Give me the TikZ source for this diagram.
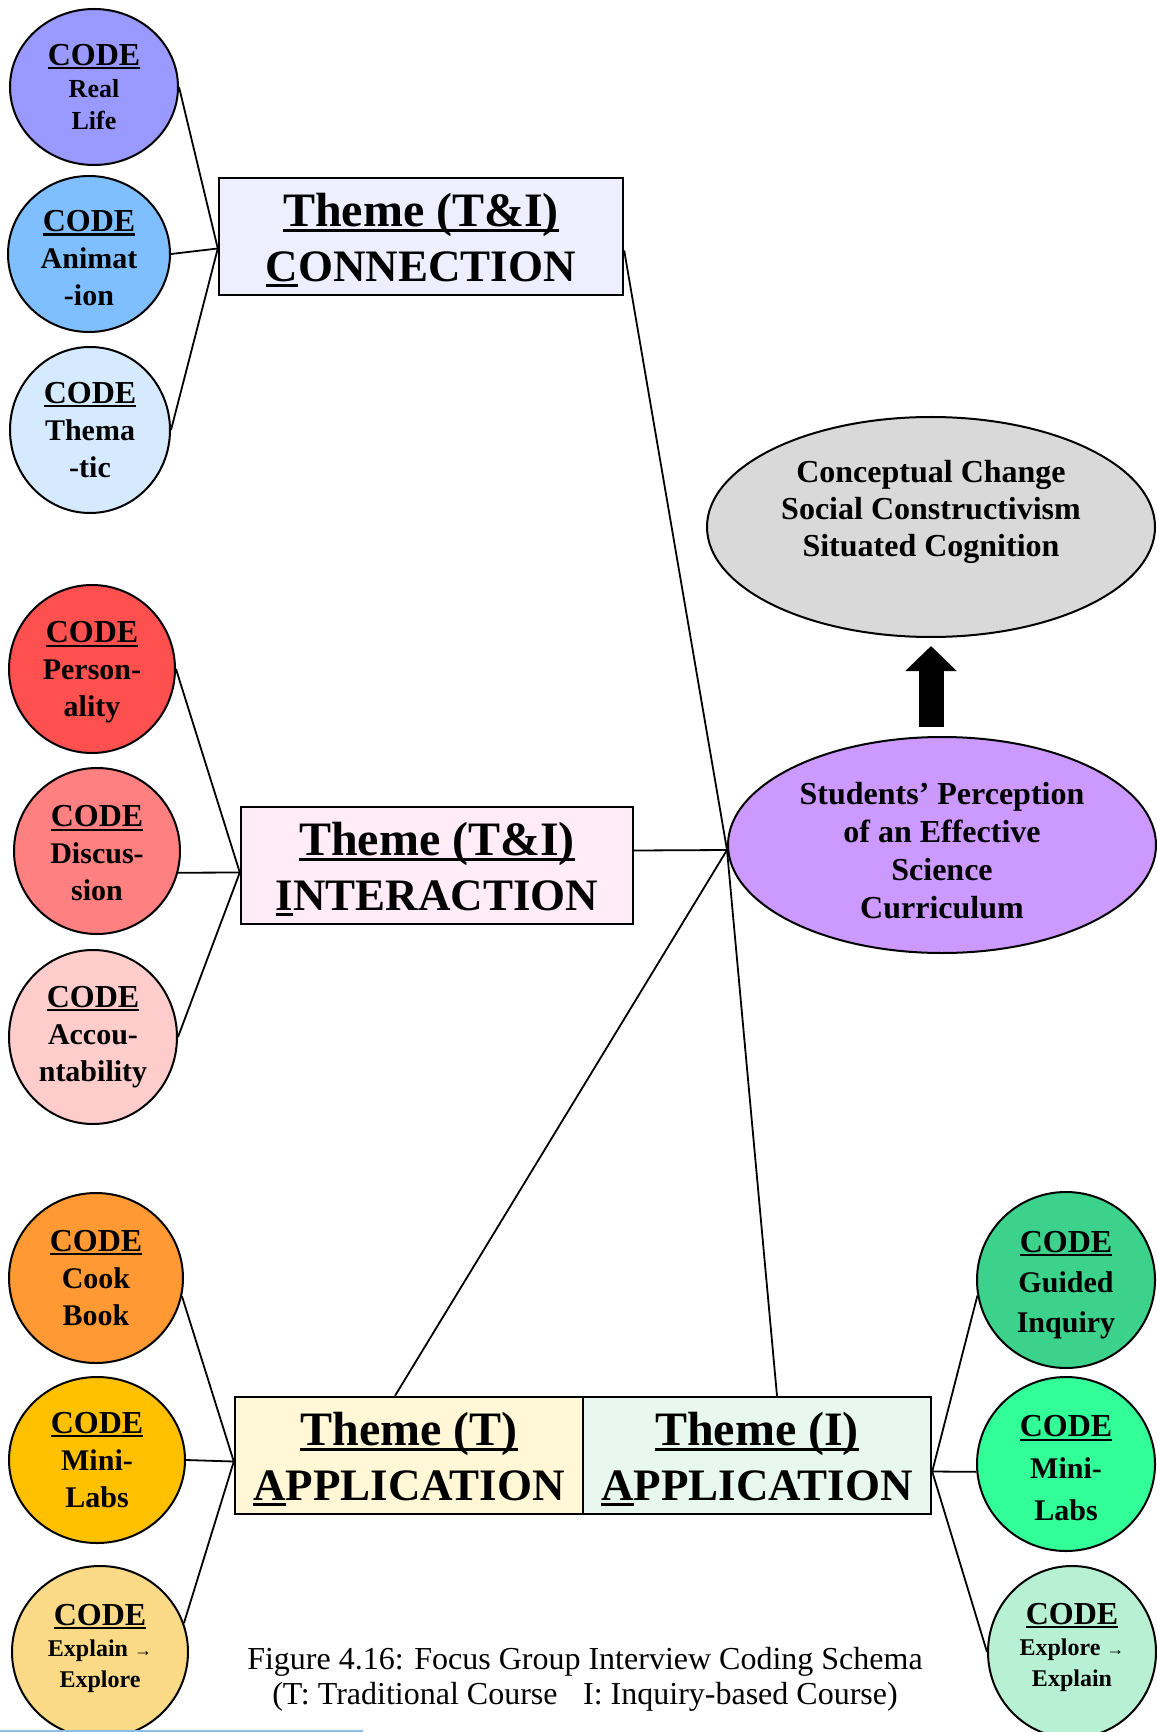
\documentclass[tikz,border=0pt]{standalone}
\usepackage{fontspec}
\setmainfont{Liberation Serif}
\usetikzlibrary{shapes.geometric,arrows.meta}
\definecolor{codeA}{HTML}{9999FF}
\definecolor{codeB}{HTML}{80BFFF}
\definecolor{codeC}{HTML}{D6EAFF}
\definecolor{codeD}{HTML}{FF5050}
\definecolor{codeE}{HTML}{FF8080}
\definecolor{codeF}{HTML}{FFCCCC}
\definecolor{codeG}{HTML}{FF9933}
\definecolor{codeH}{HTML}{FFC000}
\definecolor{codeI}{HTML}{FADA86}
\definecolor{codeJ}{HTML}{3CD28C}
\definecolor{codeK}{HTML}{33FF99}
\definecolor{codeL}{HTML}{B7F0D2}
\definecolor{themeconn}{HTML}{EEEEFF}
\definecolor{themeinter}{HTML}{FFECF6}
\definecolor{themeT}{HTML}{FFF7D6}
\definecolor{themeI}{HTML}{E8F8F0}
\definecolor{theorygray}{HTML}{D9D9D9}
\definecolor{percpurple}{HTML}{CC99FF}
\definecolor{edgeblue}{HTML}{8CBEE6}
\newsavebox\ulbox
\newcommand\ulw[1]{\sbox\ulbox{#1}\rlap{\rule[-0.13em]{\wd\ulbox}{0.075em}}\usebox\ulbox}
\newcommand\codehead{\ulw{\fontsize{16}{18}\selectfont CODE}}
\newcommand\themehead[1]{\rule{0pt}{20pt}{\fontsize{24}{27.5}\selectfont\ulw{Theme (#1)}}}
\newcommand\codetop{}
\newcommand\codebot{}
\tikzset{
	every code/.style={
		ellipse,
		draw,
		line width=1pt,
		inner sep=0pt,
		align=center,
		font=\fontsize{15}{18.5}\selectfont\bfseries
	},
	code 1/.style={font=\fontsize{13}{16}\selectfont\bfseries},
	code 2/.style={/utils/exec=\def\codetop{\rule{0pt}{15pt}}},
	code 4/.style={/utils/exec=\def\codetop{\rule{0pt}{14.2pt}}},
	code 5/.style={/utils/exec=\def\codetop{\rule{0pt}{13pt}}},
	code 9/.style={font=\fontsize{12}{15.5}\selectfont\bfseries,
		/utils/exec=\def\codebot{\rule[-6pt]{0pt}{0pt}}},
	code 10/.style={font=\fontsize{15}{20}\selectfont\bfseries,
		/utils/exec=\def\codetop{\rule{0pt}{15.4pt}}},
	code 11/.style={font=\fontsize{15}{21}\selectfont\bfseries,
		/utils/exec=\def\codetop{\rule{0pt}{15pt}}},
	code 12/.style={font=\fontsize{12}{15.5}\selectfont\bfseries,
		/utils/exec=\def\codebot{\rule[-7pt]{0pt}{0pt}}},
	every theme/.style={
		rectangle,
		draw,
		line width=1.2pt,
		inner sep=0pt,
		align=center,
		minimum height=58.5pt,
		font=\fontsize{22.5}{27.5}\selectfont\bfseries
	},
	every oval/.style={
		ellipse,
		draw,
		line width=1pt,
		inner sep=0pt,
		align=center,
		font=\fontsize{16}{18.5}\selectfont\bfseries
	},
	link/.style={line width=0.9pt},
}
\newcommand\smallarrow{{\fontsize{9}{9}\selectfont →}}

\begin{document}
\begin{tikzpicture}[x=0.5pt, y=-0.5pt, >=Stealth]
\useasboundingbox (0,0) rectangle (1156,1732);

% codes
\foreach \x/\y/\w/\h/\col/\t [count=\i] in {
	94/87/84/78/codeA/{Real\\Life},
	89/254/81/78/codeB/{Animat\\-ion},
	90/430/80/83/codeC/{Thema\\-tic},
	92/669/83/84/codeD/{Person-\\ality},
	97/851/83/83/codeE/{Discus-\\sion},
	93/1037/84/87/codeF/{Accou-\\ntability},
	96/1278/87/85/codeG/{Cook\\Book},
	97/1460/88/83/codeH/{Mini-\\Labs},
	100/1652/88/86/codeI/{Explain \smallarrow\\Explore},
	1066/1280/89/88/codeJ/{Guided\\Inquiry},
	1066/1464/89/87/codeK/{Mini-\\Labs},
	1072/1652/84/86/codeL/{Explore \smallarrow\\Explain}}
	\node [every code/.try, code \i/.try, fill=\col, minimum width=\w pt, minimum height=\h pt]
		(code-\i) at (\x,\y) {\codetop\codehead\\\t\codebot};

% themes
\node [every theme/.try, fill=themeconn, minimum width=202pt] (conn) at (421,236.5)
	{\themehead{T\&I}\\\ulw{C}ONNECTION};
\node [every theme/.try, fill=themeinter, minimum width=196pt] (inter) at (437,865.5)
	{\themehead{T\&I}\\\ulw{I}NTERACTION};
\node [every theme/.try, fill=themeT, minimum width=174pt] (appT) at (409,1455.5)
	{\themehead{T}\\\ulw{A}PPLICATION};
\node [every theme/.try, fill=themeI, minimum width=174pt] (appI) at (757,1455.5)
	{\themehead{I}\\\ulw{A}PPLICATION};

% ovals
\node [every oval/.try, fill=theorygray, minimum width=224pt, minimum height=110pt] (theory) at (931,527)
	{Conceptual Change\\Social Constructivism\\Situated Cognition\\\mbox{}};
\node [every oval/.try, fill=percpurple, minimum width=214pt, minimum height=108pt,
	font=\fontsize{16}{19}\selectfont\bfseries] (students) at (942,845)
	{\rule{0pt}{16.5pt}Students’ Perception\\of an Effective\\Science\\Curriculum};

\draw [line width=12.5pt, -{Triangle[width=25pt, length=12.5pt]}, shorten <=4.5pt, shorten >=4pt]
	(theory.south |- students.north) -- (theory.south);

% code links
\foreach \i/\a in {1/east, 2/east, 3/east}
	\draw [link] (code-\i.\a) -- ([yshift=-6pt]conn.west);
\foreach \i/\a in {4/east, 5/-15, 6/east}
	\draw [link] (code-\i.\a) -- ([yshift=-3.5pt]inter.west);
\foreach \i/\a in {7/-12, 8/east, 9/19}
	\draw [link] (code-\i.\a) -- ([yshift=-3pt]appT.west);
\foreach \i/\a in {10/190, 11/185, 12/west}
	\draw [link] (code-\i.\a) -- ([yshift=-8pt]appI.east);

% theme links
\draw [link] ([yshift=-7pt]conn.east) -- ([yshift=-2.5pt]students.west);
\draw [link] ([yshift=7.5pt]inter.east) -- ([yshift=-2.5pt]students.west);
\draw [link] ([xshift=-7pt]appT.north) -- ([yshift=-2.5pt]students.west);
\draw [link] ([xshift=10pt]appI.north) -- ([yshift=-2.5pt]students.west);

\node [align=center, font=\fontsize{16}{17.5}\selectfont] (caption) at (585,1679.5)
	{Figure 4.16: Focus Group Interview Coding Schema\\
	(T: Traditional Course\hspace{0.8em}I: Inquiry-based Course)};

\draw [edgeblue, line width=1pt] (0,1731) -- (363,1731);
\end{tikzpicture}
\end{document}
